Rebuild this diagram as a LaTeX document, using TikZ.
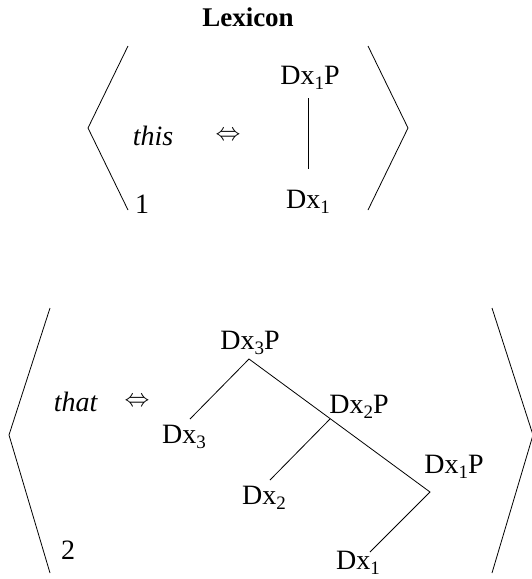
\documentclass[tikz,border=0pt]{standalone}
\usepackage{fontspec}
\setmainfont{Liberation Serif}
\tikzset{
    lab/.style={inner sep=0pt, font=\fontsize{28}{32}\selectfont},
    angl/.style={line width=0.8pt},
    branch/.style={line width=0.8pt}
}
\newcommand{\Dx}[1]{Dx\raisebox{-0.35ex}{\fontsize{19}{22}\selectfont #1}}
\begin{document}
\begin{tikzpicture}[x=1pt,y=-1pt]
            \useasboundingbox (0,0) rectangle (531,579);
            
            \node[lab,font=\fontsize{27}{30}\selectfont\bfseries] (title) at (248,17) {Lexicon};
            
            % entry 1
            \draw[angl] (128,46) -- (88,128) -- (128,210);
            \draw[angl] (368,46) -- (408,128) -- (368,210);
            \node[lab] (this) at (153,136) {\textit{this}};
            \node[lab] (eq1) at (228,136) {$\Leftrightarrow$};
            \node[lab] (top1) at (310,78) {\Dx{1}P};
            \node[lab] (bot1) at (308,202) {\Dx{1}};
            \node[lab] (num1) at (142,204) {1};
            \coordinate (u1) at (308,98);
            \coordinate (v1) at (308,169);
            \draw[branch] (u1) -- (v1);
            
            % entry 2
            \draw[angl] (50,308) -- (9,435) -- (50,573);
            \draw[angl] (492,308) -- (533,435) -- (492,573);
            \node[lab] (that) at (76,402) {\textit{that}};
            \node[lab] (eq2) at (137,402) {$\Leftrightarrow$};
            \node[lab] (num2) at (68,550) {2};
            
            \node[lab] (Dx3P) at (250,343) {\Dx{3}P};
            \node[lab] (Dx3) at (184,437) {\Dx{3}};
            \node[lab] (Dx2P) at (359,407) {\Dx{2}P};
            \node[lab] (Dx2) at (264,498) {\Dx{2}};
            \node[lab] (Dx1P) at (454,467) {\Dx{1}P};
            \node[lab] (Dx1) at (358,563) {\Dx{1}};
            
            \coordinate (n3) at (249,359);
            \coordinate (n2) at (330,419);
            \coordinate (n1) at (430,492);
            \coordinate (e3) at (190,419);
            \coordinate (e2) at (270,480);
            \coordinate (e1) at (370,552);
            \draw[branch] (e3) -- (n3) -- (n1) -- (e1);
            \draw[branch] (n2) -- (e2);
            
        \end{tikzpicture}
\end{document}
